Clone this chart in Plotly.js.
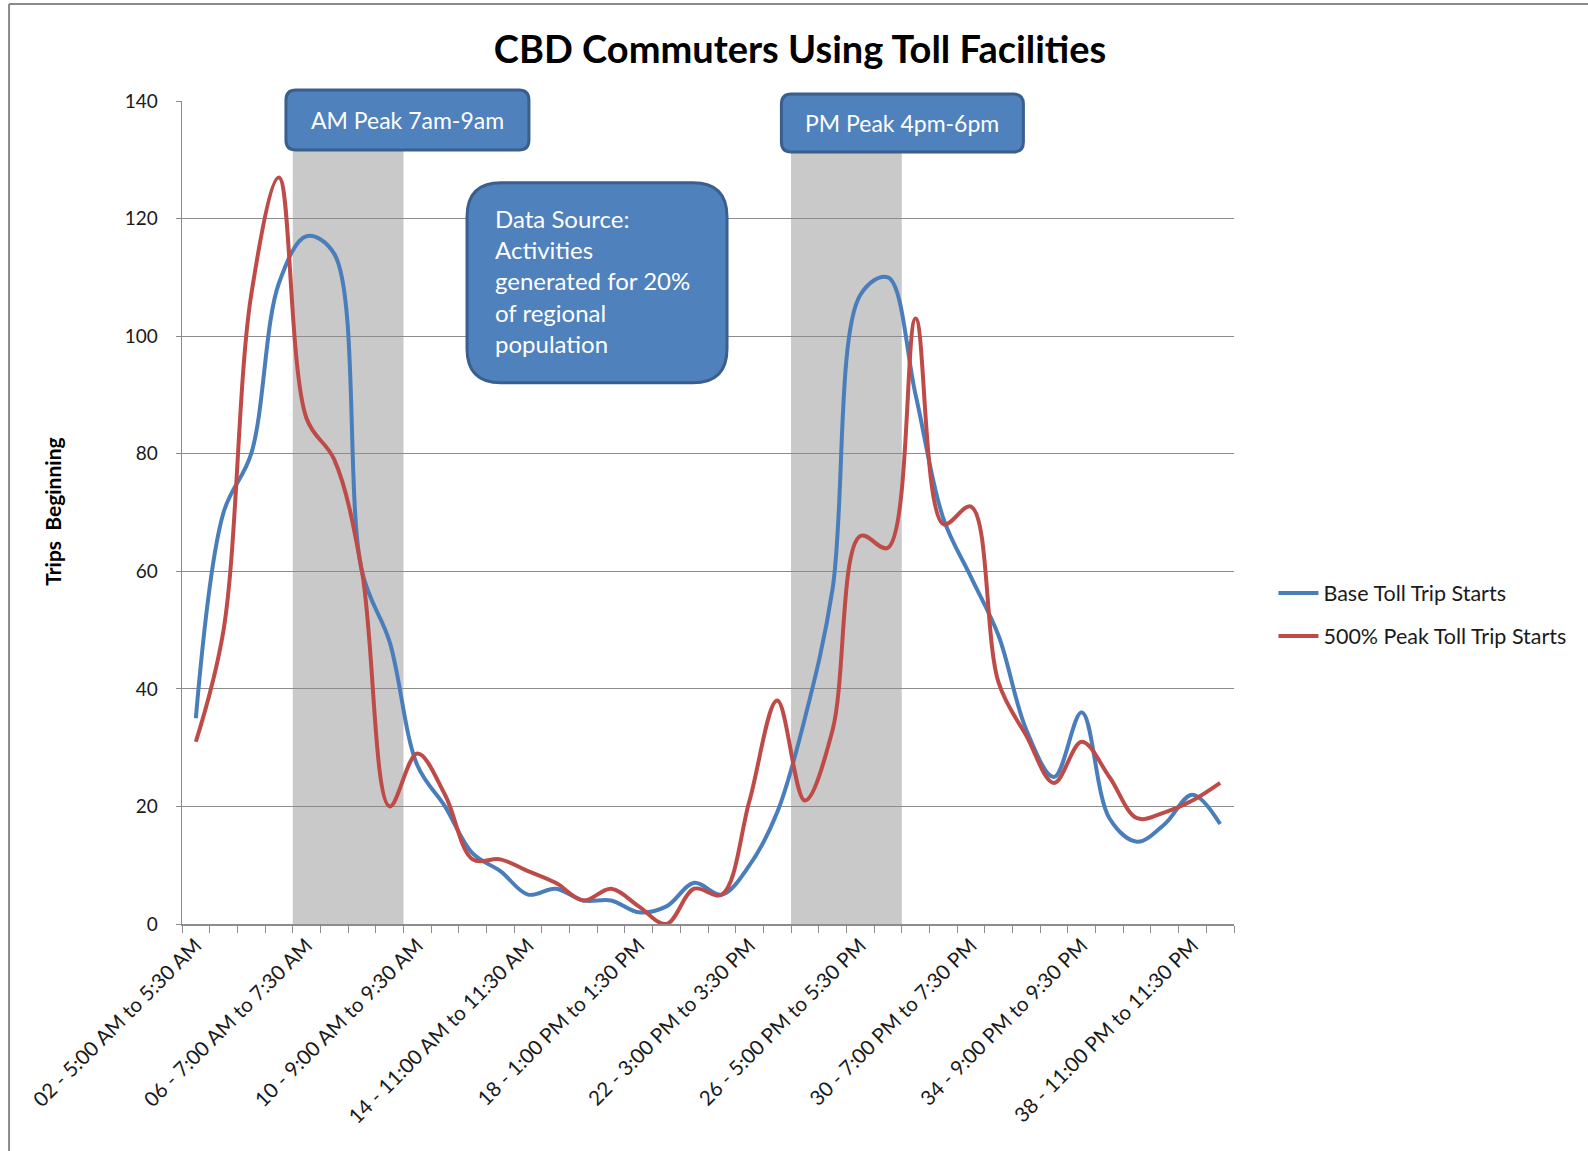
<!DOCTYPE html>
<html>
<head>
<meta charset="utf-8">
<script src="https://cdn.plot.ly/plotly-3.0.1.min.js"></script>
<style>
  html, body { margin: 0; padding: 0; background: #ffffff; }
  #chart { width: 1588px; height: 1151px; }
</style>
</head>
<body>
<div id="chart"></div>
<script>
// ---------- DATA ----------
const periodLabels = [
  "02 - 5:00 AM to 5:30 AM", "03 - 5:30 AM to 6:00 AM", "04 - 6:00 AM to 6:30 AM", "05 - 6:30 AM to 7:00 AM",
  "06 - 7:00 AM to 7:30 AM", "07 - 7:30 AM to 8:00 AM", "08 - 8:00 AM to 8:30 AM", "09 - 8:30 AM to 9:00 AM",
  "10 - 9:00 AM to 9:30 AM", "11 - 9:30 AM to 10:00 AM", "12 - 10:00 AM to 10:30 AM", "13 - 10:30 AM to 11:00 AM",
  "14 - 11:00 AM to 11:30 AM", "15 - 11:30 AM to 12:00 PM", "16 - 12:00 PM to 12:30 PM", "17 - 12:30 PM to 1:00 PM",
  "18 - 1:00 PM to 1:30 PM", "19 - 1:30 PM to 2:00 PM", "20 - 2:00 PM to 2:30 PM", "21 - 2:30 PM to 3:00 PM",
  "22 - 3:00 PM to 3:30 PM", "23 - 3:30 PM to 4:00 PM", "24 - 4:00 PM to 4:30 PM", "25 - 4:30 PM to 5:00 PM",
  "26 - 5:00 PM to 5:30 PM", "27 - 5:30 PM to 6:00 PM", "28 - 6:00 PM to 6:30 PM", "29 - 6:30 PM to 7:00 PM",
  "30 - 7:00 PM to 7:30 PM", "31 - 7:30 PM to 8:00 PM", "32 - 8:00 PM to 8:30 PM", "33 - 8:30 PM to 9:00 PM",
  "34 - 9:00 PM to 9:30 PM", "35 - 9:30 PM to 10:00 PM", "36 - 10:00 PM to 10:30 PM", "37 - 10:30 PM to 11:00 PM",
  "38 - 11:00 PM to 11:30 PM", "39 - 11:30 PM to 12:00 AM"
];
const shownTickLabels = [
  "02 - 5:00 AM to 5:30 AM", "06 - 7:00 AM to 7:30 AM", "10 - 9:00 AM to 9:30 AM", "14 - 11:00 AM to 11:30 AM",
  "18 - 1:00 PM to 1:30 PM", "22 - 3:00 PM to 3:30 PM", "26 - 5:00 PM to 5:30 PM", "30 - 7:00 PM to 7:30 PM",
  "34 - 9:00 PM to 9:30 PM", "38 - 11:00 PM to 11:30 PM"
];
const baseTollTripStarts = [35, 70, 80, 109, 117, 114, 60, 48, 27, 20, 12, 9, 5, 6, 4, 4, 2, 3, 7, 5,
                            10, 19, 35, 57, 107, 110, 90, 69, 59, 49, 33, 25, 36, 18, 14, 17, 22, 17];
const peak500TollTripStarts = [31, 50, 107, 127, 86, 79, 60, 20, 29, 22, 11, 11, 9, 7, 4, 6, 3, 0, 6, 5,
                               21, 38, 21, 33, 66, 64, 103, 68, 71, 41, 32, 24, 31, 25, 18, 19, 21, 24];
const seriesNames = ["Base Toll Trip Starts", "500% Peak Toll Trip Starts"];
const amPeakPeriods = ["06 - 7:00 AM to 7:30 AM", "09 - 8:30 AM to 9:00 AM"];
const pmPeakPeriods = ["24 - 4:00 PM to 4:30 PM", "27 - 5:30 PM to 6:00 PM"];
const yTickValues = [0, 20, 40, 60, 80, 100, 120, 140];

// ---------- STYLE ----------
const FONT = "Lato, 'Open Sans', 'DejaVu Sans', sans-serif";
const BLUE = "#4A7EBB";
const RED = "#BE4B48";
const BOX_FILL = "#4F81BD";
const BOX_LINE = "#3A5F8E";
const GRID = "#8C8C8C";

const traces = [
  {
    x: periodLabels, y: baseTollTripStarts, name: seriesNames[0], type: "scatter", mode: "lines",
    line: { color: BLUE, width: 4, shape: "spline", smoothing: 1 }, legendgroup: "a"
  },
  {
    x: periodLabels, y: peak500TollTripStarts, name: seriesNames[1], type: "scatter", mode: "lines",
    line: { color: RED, width: 4, shape: "spline", smoothing: 1 }, legendgroup: "b"
  }
];

function roundedRectPath(a, b, r) {
  return `M ${-a + r},${-b} L ${a - r},${-b} Q ${a},${-b} ${a},${-b + r} L ${a},${b - r} Q ${a},${b} ${a - r},${b} ` +
         `L ${-a + r},${b} Q ${-a},${b} ${-a},${b - r} L ${-a},${-b + r} Q ${-a},${-b} ${-a + r},${-b} Z`;
}
function box(xp, yp, w, h, r) {
  return {
    type: "path", xref: "paper", yref: "paper", xsizemode: "pixel", ysizemode: "pixel",
    xanchor: xp, yanchor: yp, path: roundedRectPath(w / 2, h / 2, r),
    fillcolor: BOX_FILL, line: { color: BOX_LINE, width: 3 }, layer: "above"
  };
}
function peakBand(range) {
  const i0 = periodLabels.indexOf(range[0]);
  const i1 = periodLabels.indexOf(range[1]);
  return {
    type: "rect", xref: "x", yref: "y", x0: i0 - 0.5, x1: i1 + 0.5, y0: 0, y1: 135,
    fillcolor: "#C9C9C9", line: { width: 0 }, layer: "below"
  };
}

const layout = {
  width: 1588, height: 1151,
  margin: { l: 182, r: 354, t: 101, b: 227, pad: 0 },
  paper_bgcolor: "#ffffff", plot_bgcolor: "#ffffff",
  font: { family: FONT, color: "#1a1a1a" },
  title: {
    text: "CBD Commuters Using Toll Facilities",
    font: { family: FONT, size: 38, weight: 700, color: "#000000" },
    x: 0.5875, xref: "paper", xanchor: "center",
    y: 0.957, yref: "container", yanchor: "middle"
  },
  xaxis: {
    type: "category", categoryorder: "array", categoryarray: periodLabels,
    range: [-0.5, periodLabels.length - 0.5],
    tickmode: "array", tickvals: periodLabels,
    ticktext: periodLabels.map(l => shownTickLabels.includes(l) ? l : ""),
    tickson: "boundaries", ticks: "outside", ticklen: 7, tickcolor: "#8C8C8C", tickwidth: 1,
    tickangle: -45, tickfont: { family: FONT, size: 20.5, color: "#1a1a1a" },
    showgrid: false, zeroline: false,
    showline: true, linecolor: "#8C8C8C", linewidth: 1.5
  },
  yaxis: {
    range: [0, 140], tickmode: "array", tickvals: yTickValues,
    ticks: "outside", ticklen: 5, tickcolor: "#8C8C8C",
    tickfont: { family: FONT, size: 19, color: "#1a1a1a" }, ticklabelstandoff: 14,
    showgrid: true, gridcolor: GRID, gridwidth: 1,
    zeroline: false, showline: true, linecolor: "#8C8C8C", linewidth: 1.5
  },
  showlegend: true,
  legend: {
    x: 1.0375, xanchor: "left", y: 0.427, yanchor: "top",
    font: { family: FONT, size: 21.5, color: "#1a1a1a" },
    bgcolor: "rgba(0,0,0,0)", tracegroupgap: 12, itemwidth: 40
  },
  shapes: [
    peakBand(amPeakPeriods),
    peakBand(pmPeakPeriods),
    box(0.2143, 0.9769, 243, 60, 10),
    box(0.6848, 0.9733, 242, 58, 10),
    box(0.3945, 0.7792, 260, 200, 34),
    { type: "line", xref: "paper", yref: "paper", x0: -0.1644, x1: -0.1644, y0: 1.1178, y1: -0.28,
      line: { color: "#8A8A8A", width: 2 }, layer: "above" },
    { type: "line", xref: "paper", yref: "paper", x0: -0.1644, x1: 1.34, y0: 1.1178, y1: 1.1178,
      line: { color: "#8A8A8A", width: 2 }, layer: "above" }
  ],
  annotations: [
    { text: "AM Peak 7am-9am", xref: "paper", yref: "paper", x: 0.2143, y: 0.9769,
      xanchor: "center", yanchor: "middle", showarrow: false,
      font: { family: FONT, size: 23, color: "#ffffff" } },
    { text: "PM Peak 4pm-6pm", xref: "paper", yref: "paper", x: 0.6848, y: 0.9733,
      xanchor: "center", yanchor: "middle", showarrow: false,
      font: { family: FONT, size: 23, color: "#ffffff" } },
    { text: "Data Source:<br>Activities<br>generated for 20%<br>of regional<br>population",
      xref: "paper", yref: "paper", x: 0.2957, y: 0.7813, xanchor: "left", yanchor: "middle",
      align: "left", showarrow: false,
      font: { family: FONT, size: 24, color: "#ffffff" } },
    { text: "Trips  Beginning", xref: "paper", yref: "paper", x: -0.1226, y: 0.501,
      xanchor: "center", yanchor: "middle", textangle: -90, showarrow: false,
      font: { family: FONT, size: 21, weight: 700, color: "#000000" } }
  ]
};

Plotly.newPlot("chart", traces, layout, { displayModeBar: false, staticPlot: true });
</script>
</body>
</html>
